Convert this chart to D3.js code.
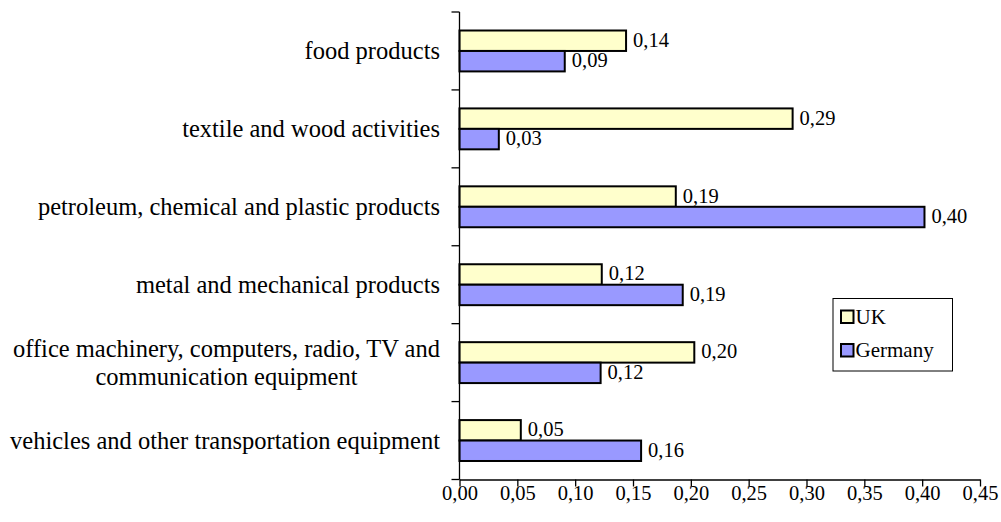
<!DOCTYPE html>
<html>
<head>
<meta charset="utf-8">
<script src="https://cdn.jsdelivr.net/npm/d3@7"></script>
<style>
  html, body { margin: 0; padding: 0; background: #fff; }
  svg { display: block; }
  text { font-family: "Liberation Serif", "Times New Roman", serif; fill: #000; }
</style>
</head>
<body>
<div id="chart"></div>
<script>
// ---- data ----
const categories = [
  "food products",
  "textile and wood activities",
  "petroleum, chemical and plastic products",
  "metal and mechanical products",
  "office machinery, computers, radio, TV and\ncommunication equipment",
  "vehicles and other transportation equipment"
];
const seriesNames = ["UK", "Germany"];
const ukValues = [0.144, 0.288, 0.187, 0.123, 0.203, 0.053];
const deValues = [0.091, 0.034, 0.402, 0.193, 0.122, 0.157];
const ukLabels = ["0,14", "0,29", "0,19", "0,12", "0,20", "0,05"];
const deLabels = ["0,09", "0,03", "0,40", "0,19", "0,12", "0,16"];
const xTicks = [0, 0.05, 0.10, 0.15, 0.20, 0.25, 0.30, 0.35, 0.40, 0.45];
const colors = { "UK": "#FFFFCC", "Germany": "#9999FF" };

// ---- layout ----
const W = 1001, H = 522;
const plot = { left: 459.5, right: 980, top: 12, bottom: 479.5 };

const svg = d3.select("#chart").append("svg").attr("width", W).attr("height", H);

const locale = d3.formatLocale({ decimal: ",", thousands: ".", grouping: [3], currency: ["", ""] });
const fmt = locale.format(".2f");

const x = d3.scaleLinear().domain([0, 0.45]).range([plot.left, plot.right]);
const y0 = d3.scaleBand().domain(categories).range([plot.top, plot.bottom]).padding(0);
const bw = y0.bandwidth();
const y1 = d3.scaleBand().domain(seriesNames).range([bw * 0.2375, bw * 0.7625]).padding(0);

const rows = categories.map((c, i) => ({
  cat: c,
  vals: [
    { s: "UK", v: ukValues[i], label: ukLabels[i] },
    { s: "Germany", v: deValues[i], label: deLabels[i] }
  ]
}));

// bars
const g = svg.append("g");
const grp = g.selectAll("g.cat").data(rows).join("g")
  .attr("class", "cat")
  .attr("transform", d => `translate(0,${y0(d.cat)})`);

grp.selectAll("rect").data(d => d.vals).join("rect")
  .attr("x", x(0))
  .attr("y", d => y1(d.s))
  .attr("width", d => x(d.v) - x(0))
  .attr("height", y1.bandwidth())
  .attr("fill", d => colors[d.s])
  .attr("stroke", "#000")
  .attr("stroke-width", 2);

grp.selectAll("text.val").data(d => d.vals).join("text")
  .attr("class", "val")
  .attr("x", d => x(d.v) + 7)
  .attr("y", d => y1(d.s) + y1.bandwidth() / 2 + 6)
  .attr("font-size", "20.5px")
  .text(d => d.label);

// x axis
const xAxis = d3.axisBottom(x).tickValues(xTicks).tickFormat(fmt).tickSizeInner(7).tickSizeOuter(0).tickPadding(0);
const gx = svg.append("g").attr("transform", `translate(0,${plot.bottom})`).call(xAxis);
gx.select(".domain").attr("stroke", "#000").attr("stroke-width", 1.3);
gx.selectAll(".tick line").attr("stroke", "#000").attr("stroke-width", 1.3);
gx.selectAll(".tick text")
  .attr("font-size", "20.5px")
  .attr("font-family", "Liberation Serif, Times New Roman, serif")
  .attr("fill", "#000")
  .attr("y", 20).attr("dy", null);

// y axis (line + ticks at band boundaries)
const gy = svg.append("g");
gy.append("line")
  .attr("x1", x(0)).attr("x2", x(0))
  .attr("y1", plot.top).attr("y2", plot.bottom)
  .attr("stroke", "#000").attr("stroke-width", 1.3);
const boundaries = categories.map(c => y0(c)).concat([plot.bottom]);
gy.selectAll("line.tk").data(boundaries).join("line")
  .attr("class", "tk")
  .attr("x1", x(0) - 8).attr("x2", x(0))
  .attr("y1", d => d).attr("y2", d => d)
  .attr("stroke", "#000").attr("stroke-width", 1.3);

// category labels
const catFont = 24.5;
const lineH = 28;
const labelRight = 440;
const cl = gy.selectAll("text.cat").data(categories).join("text")
  .attr("class", "cat")
  .attr("font-size", catFont + "px");
cl.each(function(c) {
  const t = d3.select(this);
  const lines = c.split("\n");
  const cy = y0(c) + bw / 2;
  if (lines.length === 1) {
    t.attr("text-anchor", "end").attr("x", labelRight).attr("y", cy + 8).text(c);
  } else {
    const tmp = svg.append("text").attr("font-size", catFont + "px");
    let maxW = 0;
    lines.forEach(l => { tmp.text(l); maxW = Math.max(maxW, tmp.node().getComputedTextLength()); });
    tmp.remove();
    const cx = labelRight - maxW / 2;
    t.attr("text-anchor", "middle");
    lines.forEach((l, k) => {
      t.append("tspan").attr("x", cx)
        .attr("y", cy + 8 + (k - (lines.length - 1) / 2) * lineH)
        .text(l);
    });
  }
});

// legend
const lg = svg.append("g").attr("transform", "translate(833,298.5)");
lg.append("rect").attr("x", 0).attr("y", 0).attr("width", 119.5).attr("height", 72.5)
  .attr("fill", "#fff").attr("stroke", "#000").attr("stroke-width", 1);
const li = lg.selectAll("g.li").data(seriesNames).join("g")
  .attr("class", "li")
  .attr("transform", (d, i) => `translate(8,${12 + i * 33.5})`);
li.append("rect").attr("width", 12.5).attr("height", 12.5)
  .attr("fill", d => colors[d]).attr("stroke", "#000").attr("stroke-width", 2);
li.append("text").attr("x", 14.5).attr("y", 13).attr("font-size", "21px").text(d => d);
</script>
</body>
</html>
